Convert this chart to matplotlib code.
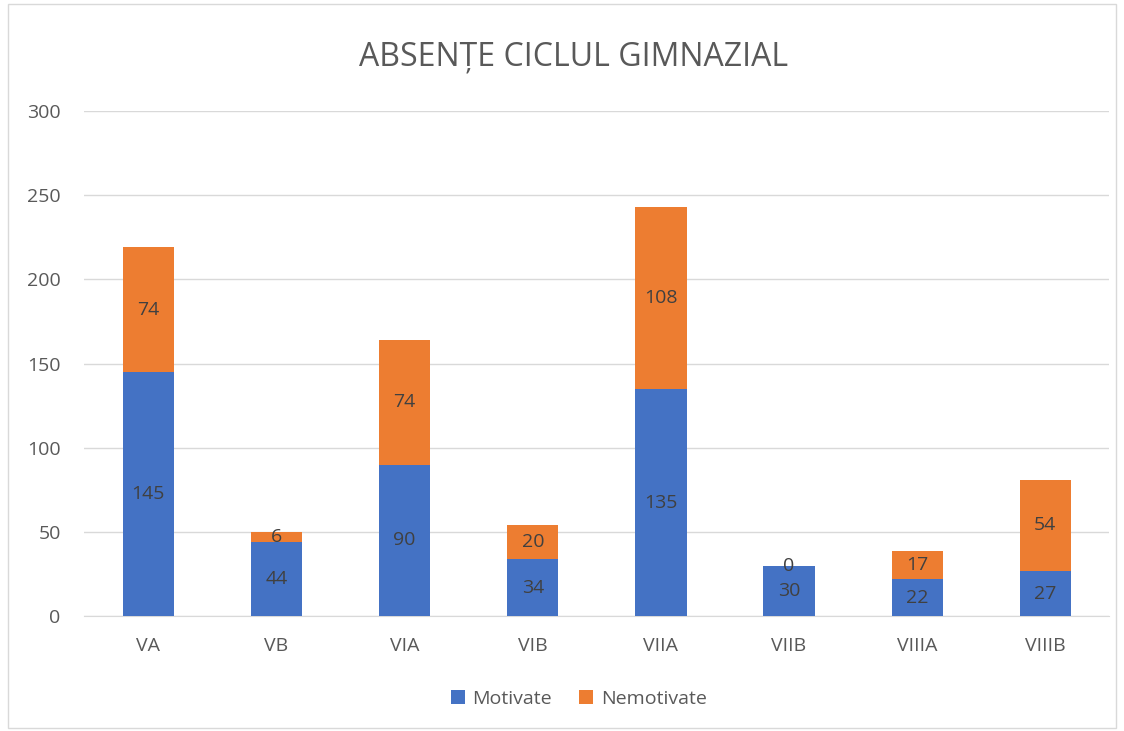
import matplotlib.pyplot as plt
import numpy as np
from matplotlib.patches import Rectangle

clase = ['VA', 'VB', 'VIA', 'VIB', 'VIIA', 'VIIB', 'VIIIA', 'VIIIB']
motivate = [145, 44, 90, 34, 135, 30, 22, 27]
nemotivate = [74, 6, 74, 20, 108, 0, 17, 54]

plt.rcParams['font.family'] = ['Open Sans', 'DejaVu Sans']
txt = '#595959'

fig = plt.figure(figsize=(11.24, 7.31), dpi=100)
fig.patches.append(Rectangle((0.007, 0.004), 0.986, 0.99, transform=fig.transFigure,
                             fill=False, edgecolor='#D9D9D9', linewidth=1))
ax = fig.add_axes([0.075, 0.157, 0.912, 0.691])

x = np.arange(len(clase))
b1 = ax.bar(x, motivate, width=0.4, color='#4472C4', label='Motivate', zorder=3)
b2 = ax.bar(x, nemotivate, width=0.4, bottom=motivate, color='#ED7D31',
            label='Nemotivate', zorder=3)
ax.bar_label(b1, labels=[str(v) for v in motivate], label_type='center',
             fontsize=14, color='#404040')
ax.bar_label(b2, labels=[str(v) for v in nemotivate], label_type='center',
             fontsize=14, color='#404040')

ax.set_ylim(0, 300)
ax.set_yticks(range(0, 301, 50))
ax.set_xlim(-0.5, len(clase) - 0.5)
ax.set_xticks(x)
ax.set_xticklabels(clase)
ax.grid(axis='y', color='#D9D9D9', linewidth=1, zorder=0)
for s in ['top', 'right', 'left']:
    ax.spines[s].set_visible(False)
ax.spines['bottom'].set_color('#D9D9D9')
ax.tick_params(axis='both', length=0, labelsize=14, colors=txt)
ax.tick_params(axis='x', pad=15)
ax.tick_params(axis='y', pad=17)

fig.text(0.51, 0.922, 'ABSENȚE CICLUL GIMNAZIAL', ha='center', va='center',
         fontsize=23, color=txt)
fig.legend(loc='center', bbox_to_anchor=(0.515, 0.044), ncol=2, frameon=False,
           fontsize=14, labelcolor=txt, handlelength=0.7, handleheight=0.7,
           columnspacing=1.4, handletextpad=0.4)

plt.savefig('out.png')
